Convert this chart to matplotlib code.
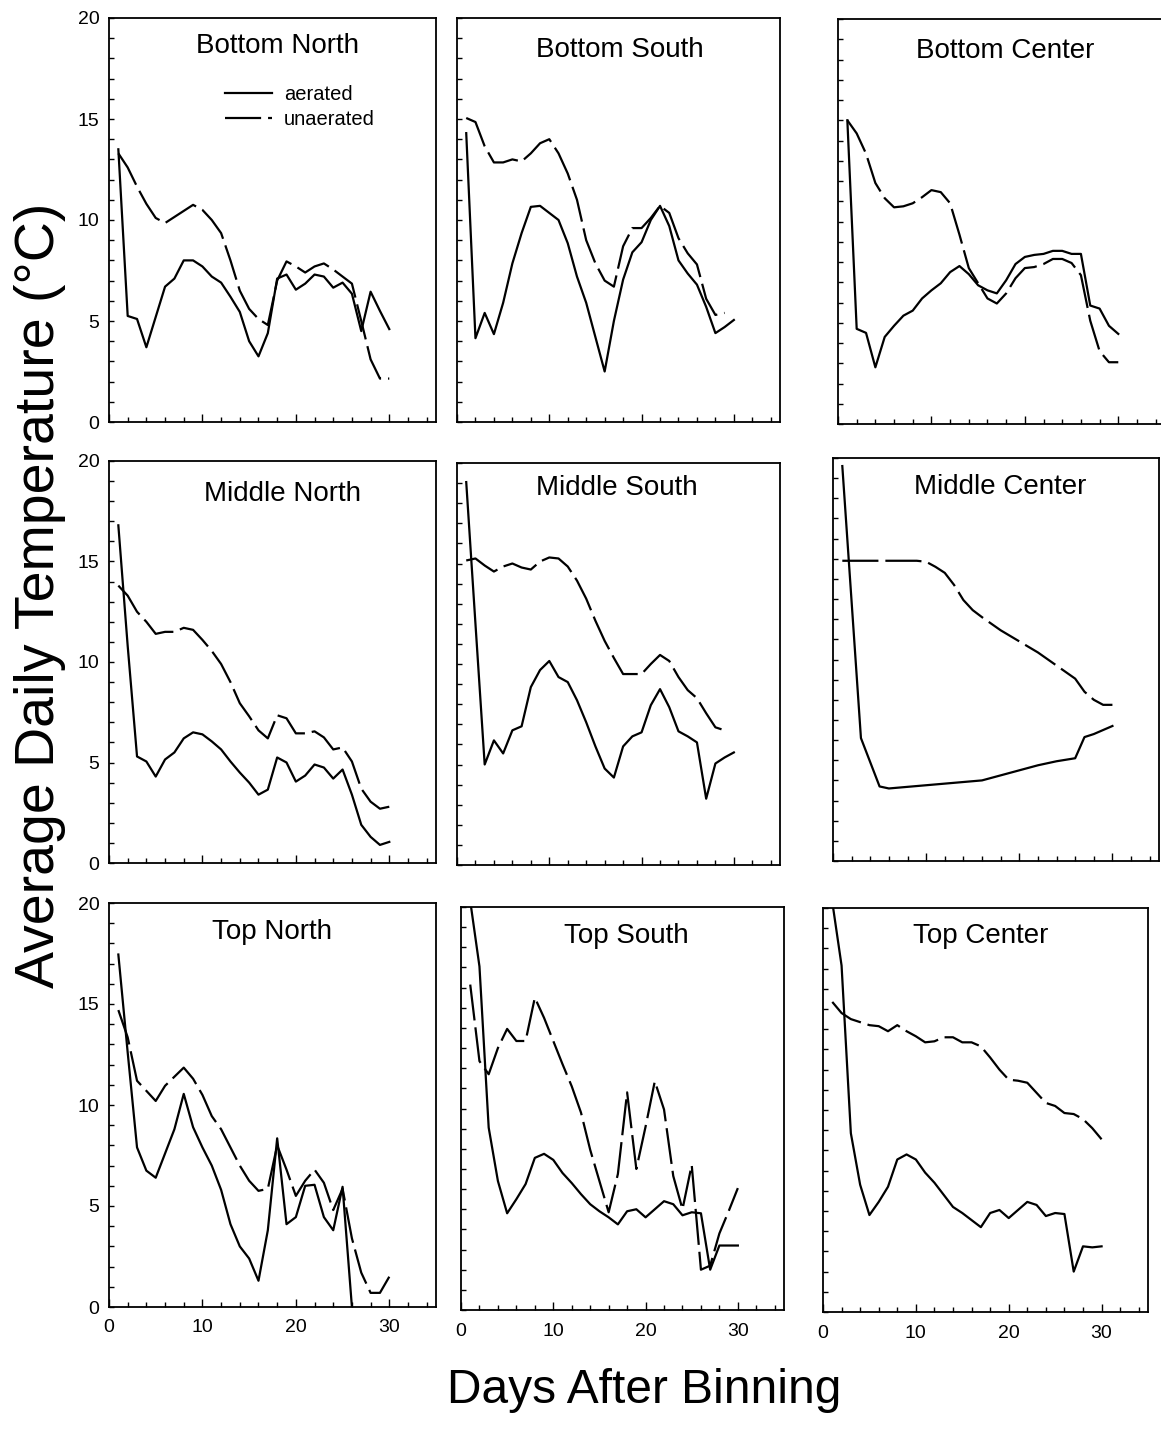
"""
plot.py

Average daily temperature in the bin, aerated vs unaerated,
for nine sensor positions (3 x 3 grid of panels).
"""

import matplotlib
matplotlib.use('Agg')
import matplotlib.pyplot as plt
from matplotlib.ticker import MultipleLocator

# ---- data ----
days = list(range(1, 31))
days29 = list(range(1, 30))
days26 = list(range(1, 27))

bn_aer = [13.5, 5.25, 5.1, 3.7, 5.2, 6.7, 7.1, 8.0, 8.0, 7.7, 7.2, 6.9, 6.2, 5.45, 4.0,
          3.25, 4.4, 7.1, 7.3, 6.55, 6.85, 7.3, 7.2, 6.65, 6.9, 6.35, 4.5, 6.45, 5.5, 4.6]
bn_una = [13.3, 12.6, 11.65, 10.8, 10.1, 9.85, 10.15, 10.45, 10.75, 10.5, 10.0, 9.35, 8.0, 6.5, 5.6,
          5.1, 4.8, 7.0, 7.95, 7.7, 7.4, 7.7, 7.85, 7.55, 7.2, 6.85, 5.0, 3.1, 2.15, 2.15]

bs_aer = [14.3, 4.15, 5.4, 4.35, 5.9, 7.85, 9.35, 10.65, 10.7, 10.35, 10.0, 8.85, 7.2, 5.9, 4.2,
          2.5, 5.0, 7.05, 8.4, 8.9, 10.0, 10.7, 9.7, 8.0, 7.35, 6.8, 5.7, 4.4, 4.7, 5.05]
bs_una = [15.05, 14.85, 13.65, 12.85, 12.85, 13.0, 12.9, 13.3, 13.8, 14.0, 13.3, 12.3, 11.0, 9.0, 7.85,
          7.0, 6.7, 8.7, 9.6, 9.6, 10.1, 10.7, 10.35, 9.1, 8.35, 7.8, 6.1, 5.3, 5.4]

bc_aer = [15.0, 4.7, 4.5, 2.8, 4.3, 4.85, 5.35, 5.6, 6.2, 6.6, 6.95, 7.5, 7.8, 7.4, 6.85,
          6.6, 6.45, 7.1, 7.9, 8.25, 8.35, 8.4, 8.55, 8.55, 8.4, 8.4, 5.85, 5.7, 4.85, 4.45]
bc_una = [15.0, 14.35, 13.35, 11.9, 11.15, 10.7, 10.75, 10.9, 11.2, 11.55, 11.45, 10.9, 9.35, 7.7, 6.95,
          6.2, 5.95, 6.45, 7.2, 7.7, 7.75, 7.9, 8.15, 8.15, 7.95, 7.35, 5.1, 3.6, 3.05, 3.05]

mn_aer = [16.8, 10.8, 5.3, 5.05, 4.3, 5.15, 5.5, 6.2, 6.5, 6.4, 6.05, 5.65, 5.05, 4.5, 4.0,
          3.4, 3.65, 5.25, 5.0, 4.05, 4.35, 4.9, 4.75, 4.2, 4.65, 3.4, 1.9, 1.3, 0.9, 1.05]
mn_una = [13.8, 13.3, 12.5, 12.0, 11.4, 11.5, 11.5, 11.7, 11.6, 11.1, 10.55, 9.9, 9.0, 7.95, 7.3,
          6.6, 6.2, 7.35, 7.2, 6.45, 6.45, 6.55, 6.25, 5.65, 5.75, 5.05, 3.7, 3.05, 2.7, 2.8]

ms_aer = [19.05, 12.0, 5.0, 6.2, 5.55, 6.7, 6.9, 8.85, 9.7, 10.15, 9.35, 9.1, 8.2, 7.1, 5.9,
          4.8, 4.35, 5.9, 6.4, 6.6, 7.95, 8.75, 7.85, 6.65, 6.4, 6.1, 3.3, 5.05, 5.35, 5.6]
ms_una = [15.15, 15.25, 14.9, 14.6, 14.85, 15.0, 14.8, 14.7, 15.1, 15.3, 15.25, 14.85, 14.15, 13.25, 12.15,
          11.15, 10.3, 9.5, 9.5, 9.5, 10.0, 10.45, 10.15, 9.35, 8.7, 8.3, 7.55, 6.85, 6.7]

# middle center logger only has a few readings
mc_aer_days = [1, 3, 5, 6, 16, 22, 24, 26, 27, 28, 30]
mc_aer = [19.6, 6.1, 3.7, 3.6, 4.0, 4.75, 4.95, 5.1, 6.15, 6.3, 6.7]
mc_una_days = [1, 9, 10, 11, 12, 13, 14, 15, 16, 18, 20, 22, 24, 26, 27, 28, 29, 30]
mc_una = [14.9, 14.9, 14.85, 14.6, 14.3, 13.7, 12.95, 12.45, 12.1, 11.45, 10.9, 10.35, 9.7, 9.05,
          8.4, 8.0, 7.75, 7.75]

tn_aer = [17.45, 12.6, 7.9, 6.75, 6.4, 7.6, 8.8, 10.55, 8.9, 7.9, 7.0, 5.8, 4.1, 3.0, 2.4,
          1.3, 3.8, 8.35, 4.1, 4.45, 6.0, 6.05, 4.45, 3.8, 5.95, 0.0]
tn_una = [14.7, 13.35, 11.2, 10.7, 10.2, 10.95, 11.4, 11.85, 11.3, 10.5, 9.45, 8.8, 7.9, 7.0, 6.25,
          5.75, 5.85, 8.0, 6.8, 5.5, 6.25, 6.8, 6.15, 4.8, 5.85, 3.4, 1.7, 0.7, 0.7, 1.5]

ts_aer = [20.3, 17.05, 9.05, 6.4, 4.8, 5.5, 6.25, 7.55, 7.75, 7.45, 6.8, 6.3, 5.75, 5.25, 4.9,
          4.6, 4.25, 4.9, 5.0, 4.6, 5.0, 5.4, 5.25, 4.7, 4.85, 4.8, 2.0, 3.2, 3.2, 3.2]
ts_una = [16.15, 12.35, 11.7, 13.0, 13.95, 13.35, 13.35, 15.5, 14.5, 13.35, 12.2, 11.1, 9.8, 7.95, 6.4,
          4.85, 6.75, 10.8, 7.0, 9.1, 11.35, 9.95, 6.65, 5.0, 7.2, 2.0, 2.2, 3.8, 4.9, 6.05]

tc_aer = [20.3, 17.15, 8.85, 6.3, 4.8, 5.45, 6.2, 7.55, 7.8, 7.55, 6.9, 6.4, 5.8, 5.2, 4.9,
          4.55, 4.2, 4.9, 5.05, 4.65, 5.05, 5.45, 5.3, 4.75, 4.9, 4.85, 2.0, 3.25, 3.2, 3.25]
tc_una = [15.35, 14.8, 14.5, 14.35, 14.2, 14.15, 13.9, 14.2, 13.9, 13.65, 13.35, 13.4, 13.6, 13.6, 13.35,
          13.35, 13.15, 12.6, 12.0, 11.5, 11.45, 11.35, 10.85, 10.35, 10.2, 9.85, 9.8, 9.55, 9.1, 8.55]

titles = ['Bottom North', 'Bottom South', 'Bottom Center',
          'Middle North', 'Middle South', 'Middle Center',
          'Top North', 'Top South', 'Top Center']

series = [
    (days, bn_aer, days, bn_una),
    (days, bs_aer, days29, bs_una),
    (days, bc_aer, days, bc_una),
    (days, mn_aer, days, mn_una),
    (days, ms_aer, days29, ms_una),
    (mc_aer_days, mc_aer, mc_una_days, mc_una),
    (days26, tn_aer, days, tn_una),
    (days, ts_aer, days, ts_una),
    (days, tc_aer, days, tc_una),
]

# ---- layout (pixels of the 1161 x 1435 scan) ----
W, H = 1161, 1435

# left, top, right, bottom of each panel frame
frames = [
    (109, 18, 436, 422), (457, 18, 780, 422), (838, 19, 1165, 424),
    (109, 461, 436, 863), (457, 463, 780, 865), (833, 458, 1159, 861),
    (109, 903, 436, 1307), (461, 907, 784, 1310), (823, 908, 1148, 1312),
]
# title centre x and baseline y
title_pos = [
    (277, 53), (620, 57), (1005, 58),
    (283, 501), (617, 495), (1000, 494),
    (272, 939), (626, 943), (981, 943),
]


def px_rect(l, t, r, b):
    return [l / W, 1 - b / H, (r - l) / W, (b - t) / H]


plt.rcParams['font.family'] = ['Liberation Sans', 'DejaVu Sans']
plt.rcParams['lines.scale_dashes'] = False

fig = plt.figure(figsize=(W / 100, H / 100), dpi=100)

DASH = (26, 5)

for i, (fr, title) in enumerate(zip(frames, titles)):
    ax = fig.add_axes(px_rect(*fr))
    xa, ya, xu, yu = series[i]
    la, = ax.plot(xa, ya, color='black', lw=1.6, label='aerated')
    lu, = ax.plot(xu, yu, color='black', lw=1.6, dashes=DASH, label='unaerated')

    ax.set_xlim(0, 35)
    ax.set_ylim(0, 20)
    ax.xaxis.set_major_locator(MultipleLocator(10))
    ax.xaxis.set_minor_locator(MultipleLocator(2))
    ax.yaxis.set_major_locator(MultipleLocator(5))
    ax.yaxis.set_minor_locator(MultipleLocator(1))
    ax.tick_params(axis='both', which='both', direction='in', width=1.0,
                   labelsize=14, top=False, right=False)
    ax.tick_params(axis='x', which='major', length=5.5, pad=9)
    ax.tick_params(axis='x', which='minor', length=3.5)
    ax.tick_params(axis='y', which='both', length=3.5, pad=7)
    for s in ax.spines.values():
        s.set_linewidth(1.3)

    col, row = i % 3, i // 3
    if col != 0:
        ax.tick_params(axis='y', labelleft=False)
    if row != 2:
        ax.tick_params(axis='x', labelbottom=False)

    cx, by = title_pos[i]
    fig.text(cx / W, 1 - by / H, title, ha='center', va='baseline', fontsize=20)

    # legend only in the first panel
    if i == 0:
        ax.legend(handles=[la, lu], loc='upper left',
                  bbox_to_anchor=(225 / W, 1 - 85 / H), bbox_transform=fig.transFigure,
                  frameon=False, fontsize=14.5, handlelength=2.34, handletextpad=0.6,
                  borderpad=0, borderaxespad=0, labelspacing=0.3)

# shared axis labels
fig.text(40 / W, 1 - 595 / H, 'Average Daily Temperature (\u00b0C)', rotation=90,
         ha='center', va='center', fontsize=40)
fig.text(644 / W, 1 - 1403 / H, 'Days After Binning', ha='center', va='baseline',
         fontsize=34.5)

fig.savefig('out.png', dpi=100)
